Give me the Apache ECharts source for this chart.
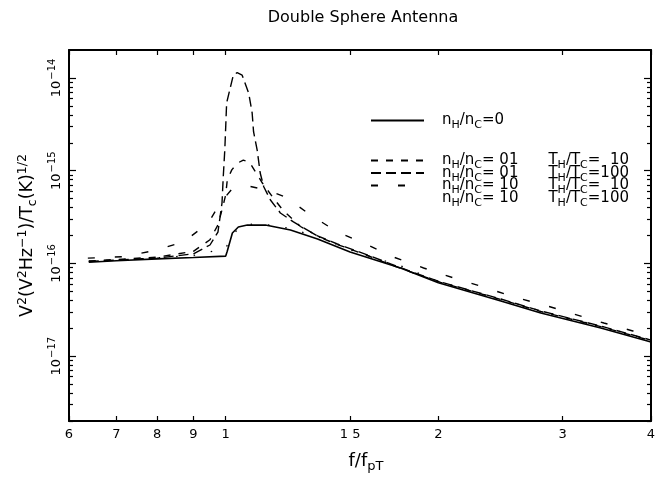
<!DOCTYPE html>
<html><head><meta charset="utf-8">
<script src="https://cdn.jsdelivr.net/npm/echarts@6/dist/echarts.min.js"></script>
<style>html,body{margin:0;padding:0;background:#fff}#c{width:663px;height:488px}</style>
</head><body><div id="c"></div>
<script>
// ---------- data ----------
const titleText = 'Double Sphere Antenna';
const xTickValues = [0.6, 0.7, 0.8, 0.9, 1, 1.5, 2, 3, 4];
const xTickLabels = ['6', '7', '8', '9', '1', '1 5', '2', '3', '4'];
const yMajorValues = [1e-17, 1e-16, 1e-15, 1e-14];
const yMajorExps = ['−17', '−16', '−15', '−14'];
const yMinorValues = [2e-18,3e-18,4e-18,5e-18,6e-18,7e-18,8e-18,9e-18,
  2e-17,3e-17,4e-17,5e-17,6e-17,7e-17,8e-17,9e-17,
  2e-16,3e-16,4e-16,5e-16,6e-16,7e-16,8e-16,9e-16,
  2e-15,3e-15,4e-15,5e-15,6e-15,7e-15,8e-15,9e-15];

// n_H/n_C = 0 (solid)
const fA = [0.64,0.7,0.8,0.9,1.0,1.005,1.022,1.042,1.073,1.138,1.235,1.349,1.5,1.768,2.0,2.452,2.793,3.396,4.0];
const vA = [1.03e-16,1.07e-16,1.12e-16,1.16e-16,1.20e-16,1.35e-16,2.13e-16,2.47e-16,2.59e-16,2.59e-16,2.29e-16,1.83e-16,1.33e-16,8.93e-17,6.2e-17,3.94e-17,2.92e-17,2.01e-17,1.42e-17];
// n_H/n_C = 0.1, T_H/T_C = 10
const fB = [0.64,0.8,0.9,0.95,0.975,0.99,1.0,1.005,1.02,1.04,1.059,1.08,1.102,1.127,1.165,1.207,1.276,1.362,1.439,1.517,1.603,1.712,1.869,2.015,2.452,2.793,3.396,4.0];
const vB = [1.06e-16,1.17e-16,1.35e-16,1.8e-16,2.6e-16,4.0e-16,5.5e-16,7.9e-16,1.02e-15,1.21e-15,1.30e-15,1.24e-15,9.7e-16,7.36e-16,5.2e-16,3.7e-16,2.5e-16,1.9e-16,1.6e-16,1.38e-16,1.18e-16,9.7e-17,7.6e-17,6.25e-17,4.08e-17,3.03e-17,2.08e-17,1.47e-17];
// n_H/n_C = 0.1, T_H/T_C = 100
const fC = [0.64,0.8,0.9,0.95,0.975,0.988,0.992,0.997,1.0,1.003,1.025,1.038,1.055,1.078,1.090,1.095,1.108,1.119,1.132,1.157,1.195,1.247,1.349,1.439,1.517,1.603,1.712,1.869,2.015,2.452,2.793,3.396,4.0];
const vC = [1.05e-16,1.14e-16,1.27e-16,1.58e-16,2.18e-16,4.48e-16,8.55e-16,1.67e-15,2.96e-15,5.37e-15,1.07e-14,1.14e-14,1.07e-14,6.82e-15,4.19e-15,2.63e-15,1.67e-15,9.44e-16,6.71e-16,4.83e-16,3.5e-16,2.8e-16,1.98e-16,1.62e-16,1.40e-16,1.20e-16,9.87e-17,7.69e-17,6.31e-17,4.13e-17,3.07e-17,2.11e-17,1.49e-17];
// n_H/n_C = 10, T_H/T_C = 10
const fD = [0.638,0.713,0.787,0.871,0.945,0.982,1.02,1.08,1.15,1.215,1.318,1.439,1.577,1.728,1.906,2.102,2.319,2.557,2.82,3.11,3.43,3.77,4.0];
const vD = [1.14e-16,1.18e-16,1.36e-16,1.70e-16,2.73e-16,4.48e-16,6.3e-16,6.8e-16,6.1e-16,5.2e-16,3.33e-16,2.18e-16,1.62e-16,1.17e-16,8.93e-17,6.97e-17,5.57e-17,4.35e-17,3.57e-17,2.85e-17,2.28e-17,1.87e-17,1.65e-17];
// n_H/n_C = 10, T_H/T_C = 100
const fE = [0.64,0.8,0.9,1.0,1.02,1.05,1.1,1.2,1.35,1.5,1.77,2.0,2.45,2.8,3.4,4.0];
const vE = [1.05e-16,1.15e-16,1.22e-16,1.45e-16,2.0e-16,2.5e-16,2.7e-16,2.5e-16,1.95e-16,1.4e-16,9.4e-17,6.4e-17,4.1e-17,3.05e-17,2.1e-17,1.48e-17];

const seriesNames = ['A', 'B', 'C', 'D', 'E'];
const legendTexts = {
  A: '{n|n}{s|H}{n|/n}{s|C}{n|=0}',
  B: '{n|n}{s|H}{n|/n}{s|C}{n|= 01}{g| }{n|T}{s|H}{n|/T}{s|C}{n|=  10}',
  C: '{n|n}{s|H}{n|/n}{s|C}{n|= 01}{g| }{n|T}{s|H}{n|/T}{s|C}{n|=100}',
  D: '{n|n}{s|H}{n|/n}{s|C}{n|= 10}{g| }{n|T}{s|H}{n|/T}{s|C}{n|=  10}',
  E: '{n|n}{s|H}{n|/n}{s|C}{n|= 10}{g| }{n|T}{s|H}{n|/T}{s|C}{n|=100}'
};

// ---------- chart ----------
const FONT = 'DejaVu Sans';
const K = '#000';
const pairs = (xs, ys) => xs.map((x, i) => [x, ys[i]]);
const dataSets = { A: pairs(fA, vA), B: pairs(fB, vB), C: pairs(fC, vC), D: pairs(fD, vD), E: pairs(fE, vE) };
const dashStyles = { A: 'solid', B: [7, 8], C: [10, 5], D: [7, 20], E: [1.5, 16] };
const widths = { A: 1.6, B: 1.4, C: 1.4, D: 1.4, E: 1.3 };

const richLegend = {
  n: { fontFamily: FONT, fontSize: 15, color: K, lineHeight: 12, verticalAlign: 'middle' },
  s: { fontFamily: FONT, fontSize: 11, color: K, lineHeight: 12, verticalAlign: 'middle', padding: [10, 0, 0, 0] },
  g: { fontFamily: FONT, fontSize: 15, width: 30, lineHeight: 12 }
};

function closestIdx(arr, v) {
  let bi = 0, bd = Infinity;
  arr.forEach((a, i) => { const d = Math.abs(Math.log(a) - Math.log(v)); if (d < bd) { bd = d; bi = i; } });
  return bi;
}

const xAxisBase = {
  type: 'log', logBase: 10, min: 0.6, max: 4,
  splitLine: { show: false }, minorTick: { show: false },
  axisLine: { show: true, lineStyle: { color: K, width: 2 } }
};
const yAxisBase = {
  type: 'log', logBase: 10, min: 2e-18, max: 2e-14,
  splitLine: { show: false }, minorTick: { show: false }
};

const legendBase = {
  itemWidth: 53, itemHeight: 12, selectedMode: false, padding: 0,
  itemStyle: { opacity: 0 },
  formatter: name => legendTexts[name],
  textStyle: { padding: [0, 0, 0, 13], rich: richLegend }
};

const option = {
  backgroundColor: '#fff',
  animation: false,
  title: {
    text: titleText, left: 358, top: 5, textAlign: 'center',
    textStyle: { fontFamily: FONT, fontSize: 16, fontWeight: 'normal', color: K }
  },
  grid: { left: 69, right: 12, top: 50, bottom: 67, containLabel: false },
  xAxis: [
    Object.assign({}, xAxisBase, {
      position: 'bottom',
      axisTick: { show: true, inside: true, length: 5, customValues: xTickValues, lineStyle: { color: K, width: 1.2 } },
      axisLabel: {
        show: true, customValues: xTickValues, margin: 7, color: K, fontFamily: FONT, fontSize: 13,
        formatter: v => xTickLabels[closestIdx(xTickValues, v)]
      },
      name: '{n|f/f}{s|pT}', nameLocation: 'middle', nameGap: 32,
      nameTextStyle: {
        padding: [0, 0, 0, 12],
        rich: {
          n: { fontFamily: FONT, fontSize: 18, color: K, lineHeight: 16, verticalAlign: 'middle' },
          s: { fontFamily: FONT, fontSize: 13, color: K, lineHeight: 16, verticalAlign: 'middle', padding: [11, 0, 0, 0] }
        }
      }
    }),
    Object.assign({}, xAxisBase, {
      position: 'top',
      axisTick: { show: true, inside: true, length: 5, customValues: xTickValues, lineStyle: { color: K, width: 1.2 } },
      axisLabel: { show: false }
    })
  ],
  yAxis: [
    Object.assign({}, yAxisBase, {
      position: 'left',
      axisLine: { show: true, lineStyle: { color: K, width: 2 } },
      axisTick: { show: true, inside: true, length: 7, customValues: yMajorValues, lineStyle: { color: K, width: 1.2 } },
      axisLabel: {
        show: true, customValues: yMajorValues, rotate: 90, margin: 6,
        formatter: v => '{b|10}{p|' + yMajorExps[closestIdx(yMajorValues, v)] + '}',
        rich: {
          b: { fontFamily: FONT, fontSize: 13, color: K, lineHeight: 12, verticalAlign: 'middle' },
          p: { fontFamily: FONT, fontSize: 10, color: K, lineHeight: 12, verticalAlign: 'middle', padding: [0, 0, 9, 1] }
        }
      },
      name: '{n|V}{p|2}{n|(V}{p|2}{n|Hz}{p|−1}{n|)/T}{s|c}{n|(K)}{p|1/2}',
      nameLocation: 'middle', nameGap: 30, nameRotate: 90,
      nameTextStyle: {
        rich: {
          n: { fontFamily: FONT, fontSize: 17.5, color: K, lineHeight: 16, verticalAlign: 'middle' },
          p: { fontFamily: FONT, fontSize: 12.5, color: K, lineHeight: 16, verticalAlign: 'middle', padding: [0, 0, 10, 0] },
          s: { fontFamily: FONT, fontSize: 12.5, color: K, lineHeight: 16, verticalAlign: 'middle', padding: [11, 0, 0, 0] }
        }
      }
    }),
    Object.assign({}, yAxisBase, {
      position: 'left',
      axisLine: { show: false },
      axisTick: { show: true, inside: true, length: 4, customValues: yMinorValues, lineStyle: { color: K, width: 1.2 } },
      axisLabel: { show: false }
    }),
    Object.assign({}, yAxisBase, {
      position: 'right',
      axisLine: { show: true, lineStyle: { color: K, width: 2 } },
      axisTick: { show: true, inside: true, length: 7, customValues: yMajorValues, lineStyle: { color: K, width: 1.2 } },
      axisLabel: { show: false }
    }),
    Object.assign({}, yAxisBase, {
      position: 'right',
      axisLine: { show: false },
      axisTick: { show: true, inside: true, length: 4, customValues: yMinorValues, lineStyle: { color: K, width: 1.2 } },
      axisLabel: { show: false }
    })
  ],
  legend: [
    Object.assign({}, legendBase, { data: ['A'], left: 370, top: 110 }),
    Object.assign({}, legendBase, {
      data: ['B', 'C', 'D', { name: 'E', icon: 'none' }], orient: 'vertical',
      left: 370, top: 150, itemGap: -8.5
    })
  ],
  series: seriesNames.map(n => ({
    name: n, type: 'line', data: dataSets[n], xAxisIndex: 0, yAxisIndex: 0,
    showSymbol: false, symbol: 'none', smooth: false, silent: true,
    lineStyle: { color: K, width: widths[n], type: dashStyles[n] },
    itemStyle: { color: K }
  }))
};

const chart = echarts.init(document.getElementById('c'), null, { renderer: 'canvas' });
chart.setOption(option);
</script>
</body></html>
